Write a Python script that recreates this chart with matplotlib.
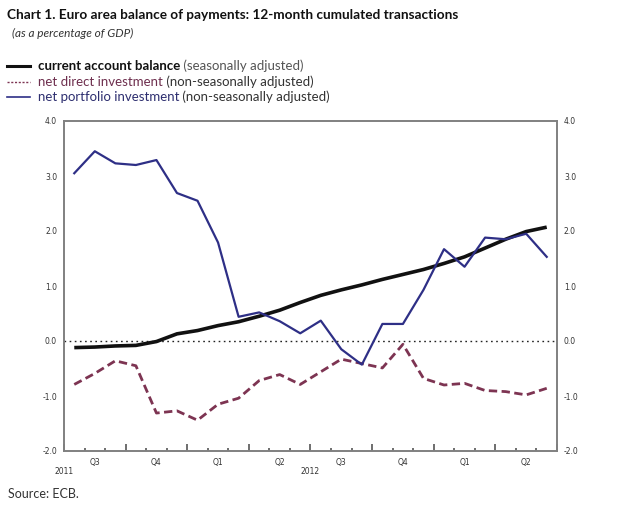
import matplotlib
matplotlib.use("Agg")
import matplotlib.pyplot as plt
from matplotlib.lines import Line2D
import numpy as np

# ---- data ----
quarter_labels = ["Q3", "Q4", "Q1", "Q2", "Q3", "Q4", "Q1", "Q2"]
year_labels = ["2011", "2012"]
current_account = [-0.12, -0.11, -0.09, -0.08, -0.01, 0.13, 0.19, 0.28, 0.35, 0.45, 0.56, 0.70,
                   0.83, 0.93, 1.02, 1.12, 1.21, 1.30, 1.41, 1.53, 1.69, 1.85, 1.99, 2.07]
net_direct = [-0.79, -0.59, -0.36, -0.45, -1.31, -1.27, -1.44, -1.15, -1.04, -0.72, -0.61, -0.79,
              -0.56, -0.33, -0.41, -0.49, -0.06, -0.68, -0.80, -0.77, -0.90, -0.92, -0.98, -0.86]
net_portfolio = [3.05, 3.45, 3.23, 3.20, 3.29, 2.69, 2.55, 1.79, 0.44, 0.52, 0.36, 0.14,
                 0.37, -0.15, -0.43, 0.31, 0.31, 0.93, 1.67, 1.35, 1.88, 1.85, 1.95, 1.53]
y_ticks = [-2.0, -1.0, 0.0, 1.0, 2.0, 3.0, 4.0]

C_BLACK = "#111111"
C_RED = "#7d3452"
C_BLUE = "#2e2f86"

W, H = 620, 516
fig = plt.figure(figsize=(W / 100, H / 100), dpi=100)
ax = fig.add_axes([64 / W, 1 - 451 / H, 493 / W, 330 / H])

x = np.arange(len(current_account))
ax.axhline(0, color="#222222", lw=1.0, ls=(0, (1.2, 2.5)), zorder=1)
ax.plot(x, net_direct, color=C_RED, lw=2.0, ls=(0, (3, 1.6)), zorder=2)
ax.plot(x, current_account, color=C_BLACK, lw=2.6, zorder=3, solid_capstyle="butt")
ax.plot(x, net_portfolio, color=C_BLUE, lw=1.6, zorder=4)

n = len(x)
ax.set_xlim(-0.5, n - 0.5)
ax.set_ylim(-2, 4)

for s in ax.spines.values():
    s.set_color("#808080")
    s.set_linewidth(1.4)

# x ticks: month boundaries (minor) and quarter boundaries (major)
ax.set_xticks(np.arange(-0.5, n, 3))
ax.set_xticks(np.arange(-0.5, n, 1), minor=True)
ax.tick_params(axis="x", which="major", direction="in", length=5, width=1.2, color="#555555",
               labelbottom=False)
ax.tick_params(axis="x", which="minor", direction="in", length=2.5, width=1.2, color="#555555")
ax.set_yticks(y_ticks)
ax.set_yticklabels([f"{v:.1f}" for v in y_ticks])
ax.tick_params(axis="y", which="major", direction="in", length=0, labelsize=5.5,
               labelcolor="#333333", left=True, right=True, labelleft=True, labelright=True, pad=5)

for i, lab in enumerate(quarter_labels):
    ax.text(1 + 3 * i, -2.12, lab, ha="center", va="top", fontsize=5.5, color="#333333")
for i, lab in enumerate(year_labels):
    ax.text(-0.5 + 12 * i, -2.3, lab, ha="center", va="top", fontsize=5.5, color="#333333")

# ---- titles ----
fig.text(7 / W, 1 - 15 / H, "Chart 1. Euro area balance of payments: 12-month cumulated transactions",
         fontsize=9.8, fontweight="bold", family="Lato", color="#111111", va="center", ha="left")
fig.text(12 / W, 1 - 33 / H, "(as a percentage of GDP)", fontsize=8.5, style="italic",
         family="Lato", color="#333333", va="center", ha="left")

# ---- legend ----
def legend_row(yp, ls, color, lw, pieces):
    y = 1 - yp / H
    fig.add_artist(Line2D([7 / W, 30 / W], [y, y], transform=fig.transFigure,
                          color=color, lw=lw, ls=ls))
    fig.canvas.draw()
    r = fig.canvas.get_renderer()
    xpos = 38
    for txt, col, wt in pieces:
        t = fig.text(xpos / W, y, txt, fontsize=9.5, family="Lato", color=col,
                     fontweight=wt, va="center", ha="left")
        bb = t.get_window_extent(renderer=r)
        xpos += bb.width

legend_row(66, "-", C_BLACK, 2.2, [("current account balance", "#111111", "bold"),
                                    (" (seasonally adjusted)", "#555555", "normal")])
legend_row(82, (0, (1.5, 1.2)), C_RED, 1.0, [("net direct investment", "#6e2f4e", "normal"),
                                            (" (non-seasonally adjusted)", "#333333", "normal")])
legend_row(97, "-", C_BLUE, 1.2, [("net portfolio investment", "#2e2f70", "normal"),
                                  (" (non-seasonally adjusted)", "#333333", "normal")])

fig.text(8 / W, 1 - 494 / H, "Source: ECB.", fontsize=9, family="Lato", color="#333333",
         va="center", ha="left")

fig.savefig("out.png", dpi=100)
